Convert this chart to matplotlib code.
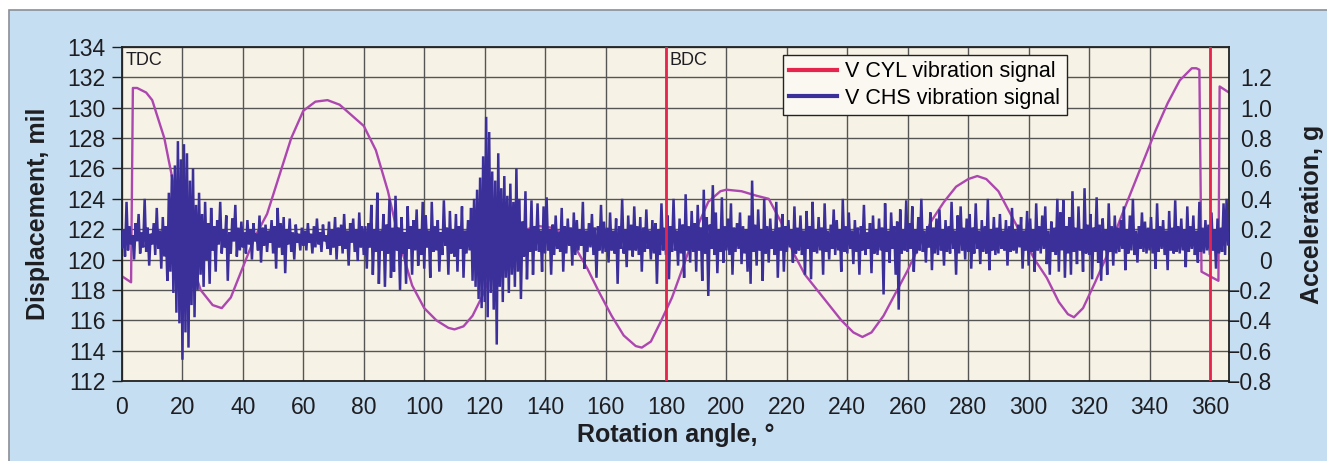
import numpy as np
import matplotlib
matplotlib.use("Agg")
import matplotlib.pyplot as plt
from matplotlib.patches import Rectangle
from matplotlib.lines import Line2D

plt.rcParams['font.family'] = ['Liberation Sans', 'DejaVu Sans']

# ---------------- data ----------------
# Displacement trace (mil)
disp_angle = [0, 3, 3.6, 5, 8, 10, 14, 18, 22, 26, 30, 33, 36, 40, 44, 48, 52, 56, 60, 64,
              68, 72, 76, 80, 84, 88, 92, 96, 100, 104, 108, 110, 113, 116, 119, 122, 126,
              130, 134, 138, 142, 146, 150, 154, 158, 162, 166, 170, 172, 175, 178, 182,
              186, 190, 194, 198, 200, 205, 210, 214, 218, 222, 226, 230, 234, 238, 242,
              245, 248, 252, 256, 260, 264, 268, 272, 276, 280, 283, 286, 290, 294, 298,
              302, 306, 310, 313, 315, 318, 322, 326, 330, 334, 338, 342, 346, 350, 354,
              355.5, 356.5, 357.2, 362.8, 363.2, 366.3]
disp_mil = [118.9, 118.5, 131.3, 131.3, 131.0, 130.5, 128.0, 124.0, 120.5, 118.0, 117.0,
            116.8, 117.5, 119.5, 121.5, 123.0, 125.5, 128.0, 129.8, 130.4, 130.5, 130.2,
            129.5, 128.8, 127.2, 124.5, 121.0, 118.3, 116.8, 116.0, 115.5, 115.4, 115.6,
            116.3, 117.5, 119.0, 120.5, 121.5, 122.0, 122.2, 122.1, 121.7, 120.8, 119.4,
            117.8, 116.3, 115.0, 114.3, 114.2, 114.6, 115.8, 117.5, 119.7, 122.0, 123.8,
            124.5, 124.6, 124.5, 124.2, 124.0, 122.5, 120.5, 119.0, 118.0, 117.0, 116.0,
            115.2, 114.9, 115.2, 116.3, 117.8, 119.3, 121.0, 122.6, 123.8, 124.8, 125.3,
            125.5, 125.3, 124.5, 123.0, 121.5, 120.0, 118.8, 117.2, 116.4, 116.2, 116.8,
            118.5, 120.3, 122.5, 124.5, 126.5, 128.5, 130.3, 131.8, 132.6, 132.6, 132.5,
            119.2, 118.6, 131.4, 131.0]

# Chassis vibration signal (hundredths of g), two samples per degree, 0 .. 366 deg
chs_000 = [8, 20, 2, 38, 6, 22, 10, 16, 0, 24, 12, 30, 4, 18, 8, 40, 5, 21, -4, 17]
chs_010 = [10, 24, 3, 34, 7, 19, -6, 28, 2, 22, -14, 44, -8, 56, -22, 62, -35, 78, -42, 66]
chs_020 = [-66, 76, -48, 70, -58, 52, -30, 60, -38, 36, -20, 44, -10, 30, -18, 38, 0, 24, -16, 34]
chs_030 = [6, 22, -8, 26, 10, 38, 4, 20, 8, 29, -14, 18, 4, 27, 12, 36, 2, 21, 6, 25]
chs_040 = [8, 18, 4, 26, 10, 20, 0, 24, 12, 17, 6, 29, -2, 21, 9, 23, 5, 19, 11, 26]
chs_050 = [4, 22, -6, 34, 8, 24, 3, 28, -9, 20, 10, 27, 5, 18, 0, 23, 11, 17, 6, 21]
chs_060 = [9, 19, 6, 24, 11, 17, 4, 22, 8, 27, 10, 18, 5, 23, 12, 16, 7, 25, 3, 20]
chs_070 = [8, 28, 0, 21, 9, 23, 4, 30, 7, 19, -4, 24, 11, 27, 5, 20, -1, 31, 8, 22]
chs_080 = [3, 22, -6, 24, 8, 36, -10, 20, 5, 44, -16, 19, 6, 30, -18, 23, 4, 40, -12, 21]
chs_090 = [-8, 42, 6, 21, -20, 28, 4, 18, -16, 35, 7, 22, -10, 26, 6, 33, -4, 20, 3, 38]
chs_100 = [-6, 29, 8, 19, -12, 38, 5, 22, 6, 26, -8, 18, 3, 39, 9, 21, -10, 32, 4, 20]
chs_110 = [2, 30, -8, 22, 7, 35, -12, 19, 4, 26, 6, 34, -14, 40, -18, 46, -26, 54, -32, 68]
chs_120 = [-28, 94, -38, 84, -22, 58, -33, 52, -56, 70, -18, 47, -28, 55, -12, 42, -22, 50, -10, 38]
chs_130 = [-18, 60, -8, 40, -26, 25, 2, 45, -13, 20, 5, 39, -10, 22, 6, 37, 5, 19, -8, 35]
chs_140 = [4, 41, 6, 20, -10, 23, 3, 29, 7, 18, 5, 34, -8, 22, 4, 27, 9, 21, -4, 31]
chs_150 = [3, 26, 6, 20, 9, 38, -6, 19, 5, 24, 8, 30, 3, 21, -12, 22, 6, 36, 4, 25]
chs_160 = [5, 21, -2, 31, 6, 19, 4, 27, -16, 22, 7, 40, 4, 20, -5, 29, 6, 23, 2, 35]
chs_170 = [6, 22, 3, 28, -8, 21, 5, 33, 7, 19, 0, 26, 4, 24, -16, 20, 3, 37, 6, 21]
chs_180 = [3, 29, -13, 22, 5, 40, 6, 19, -4, 27, 4, 23, -12, 43, 6, 22, -2, 32, 5, 24]
chs_190 = [-8, 36, 6, 21, -14, 46, 4, 28, -24, 23, 7, 49, 3, 31, -9, 20, 5, 41, -2, 22]
chs_200 = [6, 27, 3, 37, -10, 21, 5, 24, 7, 31, -3, 22, 4, 20, -8, 29, -16, 52, 5, 23]
chs_210 = [-4, 33, 6, 20, -14, 40, 4, 22, -2, 27, 7, 19, 3, 38, -12, 21, 6, 30, -8, 22]
chs_220 = [5, 26, 8, 20, -2, 35, 4, 21, 6, 29, 3, 19, -10, 32, 7, 22, -13, 38, 5, 20]
chs_230 = [4, 28, 6, 21, -10, 37, 5, 19, 0, 23, 7, 33, 3, 26, 6, 20, -8, 40, 5, 22]
chs_240 = [4, 31, 7, 19, -3, 26, 5, 21, -10, 22, 6, 36, 3, 18, 7, 24, -9, 29, 4, 20]
chs_250 = [3, 27, 6, 21, -23, 37, 5, 19, -2, 31, 7, 22, -10, 25, -33, 33, 4, 20, 6, 39]
chs_260 = [5, 24, 7, 35, -8, 20, 4, 28, 6, 40, 5, 19, -2, 22, 8, 31, -7, 21, 4, 27]
chs_270 = [3, 33, 6, 20, -4, 26, 5, 22, 4, 38, 7, 19, -10, 29, 4, 35, 6, 21, 0, 27]
chs_280 = [5, 30, -6, 21, 4, 37, 7, 19, -3, 26, 5, 22, 4, 40, -7, 20, 6, 28, 3, 21]
chs_290 = [4, 30, 7, 19, 6, 26, -4, 22, 5, 34, 6, 20, 4, 23, 8, 28, -6, 19, 6, 32]
chs_300 = [-4, 27, 5, 20, -8, 37, 6, 22, 4, 29, 7, 35, -3, 19, -10, 25, 5, 21, 3, 40]
chs_310 = [-8, 31, 6, 39, -12, 22, 4, 28, -10, 45, 5, 21, -3, 35, 6, 20, -8, 47, 4, 23]
chs_320 = [3, 30, -13, 21, 5, 41, -2, 23, -14, 27, 6, 20, -10, 37, 5, 22, -4, 29, 4, 21]
chs_330 = [5, 26, 7, 35, -7, 20, 4, 29, 6, 40, 3, 19, -2, 22, 7, 31, 5, 25, 4, 21]
chs_340 = [6, 28, 4, 20, -6, 37, 5, 22, 7, 26, 3, 19, -7, 32, 6, 21, 4, 39, 5, 22]
chs_350 = [4, 27, 6, 20, -5, 35, 5, 22, 7, 29, 3, 19, -2, 38, 5, 21, 4, 26, 6, 23]
chs_360 = [3, 31, 6, 20, -6, 27, 4, 21, 5, 37, 3, 40, 10]

chs_segments = [chs_000, chs_010, chs_020, chs_030, chs_040, chs_050, chs_060, chs_070,
                chs_080, chs_090, chs_100, chs_110, chs_120, chs_130, chs_140, chs_150,
                chs_160, chs_170, chs_180, chs_190, chs_200, chs_210, chs_220, chs_230,
                chs_240, chs_250, chs_260, chs_270, chs_280, chs_290, chs_300, chs_310,
                chs_320, chs_330, chs_340, chs_350, chs_360]
chs_step_deg = 0.5

# Dead-centre markers (deg)
marker_angles = [180, 360]
marker_labels = ["TDC", "BDC"]
marker_label_angles = [0, 180]

legend_labels = ["V CYL vibration signal", "V CHS vibration signal"]

left_ticks = [112, 114, 116, 118, 120, 122, 124, 126, 128, 130, 132, 134]
right_ticks = [-0.8, -0.6, -0.4, -0.2, 0, 0.2, 0.4, 0.6, 0.8, 1.0, 1.2]
right_tick_labels = ["\u22120.8", "\u22120.6", "\u22120.4", "\u22120.2", "0", "0.2",
                     "0.4", "0.6", "0.8", "1.0", "1.2"]
x_ticks = list(range(0, 361, 20))

# ---------------- styles ----------------
C_OUTER = "#c6def1"
C_PLOT = "#f7f2e6"
C_BLUE = "#3b2f9a"
C_PURPLE = "#ad47b0"
C_RED = "#e5254e"
C_TEXT = "#1e1e22"
FS_TICK = 16.5
FS_LABEL = 18

chs_g = np.concatenate([np.asarray(s, dtype=float) for s in chs_segments]) / 100.0
chs_angle = np.arange(len(chs_g)) * chs_step_deg

fig = plt.figure(figsize=(13.27, 4.61), dpi=100)
fig.patch.set_facecolor("white")
fig.patches.append(Rectangle((9 / 1327, -0.01), 1.0, 1 - 10 / 461 + 0.01,
                             transform=fig.transFigure, facecolor=C_OUTER,
                             edgecolor="#8a8f96", linewidth=1.2, zorder=-10))

ax = fig.add_axes([122 / 1327, 1 - 381 / 461, (1229 - 122) / 1327, (381 - 47) / 461])
ax.set_facecolor(C_PLOT)
ax.set_xlim(0, 366.3)
ax.set_ylim(112, 134)
ax.set_xticks(x_ticks)
ax.set_yticks(left_ticks)
ax.grid(True, color="#555555", linewidth=1.0)
ax.set_axisbelow(True)
ax.tick_params(axis="x", length=0, pad=11, labelsize=FS_TICK, colors=C_TEXT)
ax.tick_params(axis="y", length=7, width=1.0, pad=5, labelsize=FS_TICK, colors=C_TEXT)
for sp in ax.spines.values():
    sp.set_color("#222222")
    sp.set_linewidth(1.3)

ax.plot(disp_angle, disp_mil, color=C_PURPLE, linewidth=1.7, zorder=2)

ax2 = ax.twinx()
ax2.set_ylim(-0.8, 1.4)
ax2.set_yticks(right_ticks)
ax2.set_yticklabels(right_tick_labels)
ax2.tick_params(axis="y", length=0, pad=31, labelsize=FS_TICK, colors=C_TEXT)
for lbl in ax2.get_yticklabels():
    lbl.set_horizontalalignment("right")
for sp in ax2.spines.values():
    sp.set_visible(False)

ax2.plot(chs_angle, chs_g, color=C_BLUE, linewidth=1.8, zorder=3,
         solid_joinstyle="miter")
for a in marker_angles:
    ax2.axvline(a, color=C_RED, linewidth=2.0, zorder=4)

for lab, a in zip(marker_labels, marker_label_angles):
    ax.text(a + 1.2, 133.7, lab, fontsize=13, color=C_TEXT, ha="left", va="top",
            zorder=6)

ax.set_xlabel("Rotation angle, \u00b0", fontsize=FS_LABEL, fontweight="bold",
              color=C_TEXT, labelpad=3)
ax.set_ylabel("Displacement, mil", fontsize=FS_LABEL, fontweight="bold", color=C_TEXT,
              labelpad=12)
ax2.set_ylabel("Acceleration, g", fontsize=FS_LABEL, fontweight="bold", color=C_TEXT,
               labelpad=20)

handles = [Line2D([], [], color=C_RED, linewidth=3),
           Line2D([], [], color=C_BLUE, linewidth=3)]
leg = ax2.legend(handles, legend_labels, loc="upper left",
                 bbox_to_anchor=((783 - 122) / 1107, (381 - 55) / 334),
                 fontsize=15.5, frameon=True, fancybox=False, framealpha=1,
                 facecolor="#fbf8f1", edgecolor="#222222", handlelength=2.2,
                 borderpad=0.3, labelspacing=0.25, handletextpad=0.4,
                 borderaxespad=0)
leg.get_frame().set_linewidth(1.0)
leg.set_zorder(10)

fig.savefig("out.png", dpi=100, facecolor=fig.get_facecolor())
